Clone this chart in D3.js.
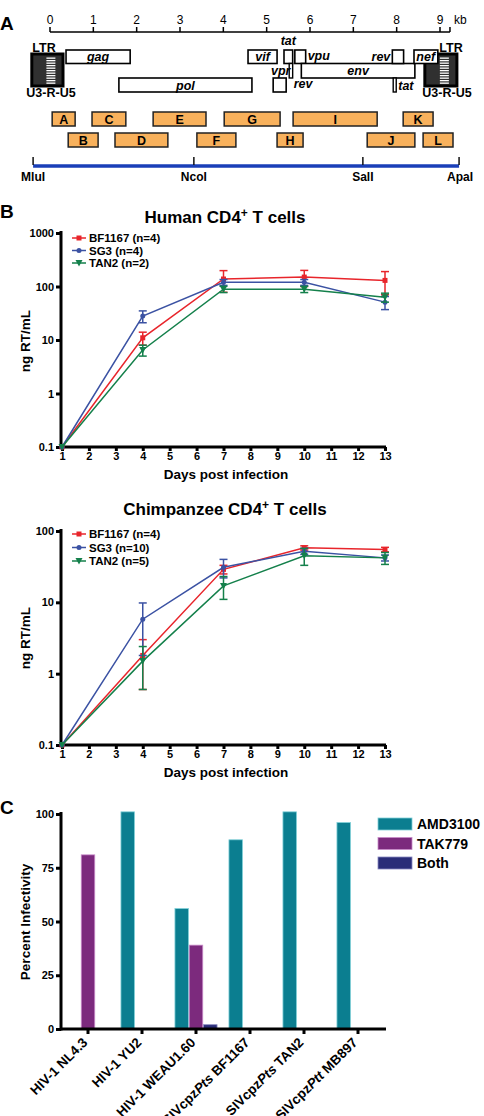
<!DOCTYPE html>
<html><head><meta charset="utf-8">
<script src="https://cdn.jsdelivr.net/npm/d3@7"></script>
<style>
html,body{margin:0;padding:0;background:#fff;}
svg text{font-family:"Liberation Sans",Arial,sans-serif;}
</style></head>
<body>
<svg id="c" width="484" height="1116"></svg>
<script>
// ---------- Panel A data (kb) ----------
const kbTicks = [0,1,2,3,4,5,6,7,8,9];
const genes = [
  {name:"gag", s:0.37, e:1.85, row:0},
  {name:"pol", s:1.59, e:4.66, row:2},
  {name:"vif", s:4.57, e:5.24, row:0},
  {name:"vpr", s:5.15, e:5.45, row:2},
  {name:"tat", s:5.40, e:5.60, row:0},
  {name:"vpu", s:5.65, e:5.90, row:0},
  {name:"env", s:5.80, e:8.42, row:1},
  {name:"rev", s:7.90, e:8.16, row:0},
  {name:"nef", s:8.40, e:8.95, row:0}
];
const thinExons = [
  {name:"rev", s:5.52, e:5.60, row:1},
  {name:"tat", s:7.92, e:7.99, row:2}
];
const ltrs = [{s:-0.42, e:0.30}, {s:8.65, e:9.39}];
const fragNames = ["A","B","C","D","E","F","G","H","I","J","K","L"];
const fragStart = [0.05,0.42,0.97,1.50,2.38,3.39,4.02,5.24,5.61,7.32,8.15,8.61];
const fragEnd   = [0.58,1.11,1.75,2.72,3.60,4.29,5.31,5.84,7.55,8.42,8.84,9.30];
const fragRow   = [0,1,0,1,0,1,0,1,0,1,0,1];
const sites = ["MluI","NcoI","SalI","ApaI"];
const sitePos = [-0.39,3.32,7.22,9.44];

// ---------- Panel B data ----------
const days = [1,4,7,10,13];
const seriesNames = ["BF1167","SG3","TAN2"];
const humanN = [4,4,2];
const humanBF1167 = [0.1,11,138,150,130];
const humanBF1167Err = [0,3,60,50,60];
const humanSG3 = [0.1,28,120,120,51];
const humanSG3Err = [0,7,15,15,14];
const humanTAN2 = [0.1,6.5,89,89,63];
const humanTAN2Err = [0,1.5,12,12,12];
const chimpN = [4,10,5];
const chimpBF1167 = [0.1,1.8,29,58,55];
const chimpBF1167Err = [0,1.2,4,4,4];
const chimpSG3 = [0.1,5.8,31,52,42];
const chimpSG3Err = [0,4,9,5,4];
const chimpTAN2 = [0.1,1.5,17,45,42];
const chimpTAN2Err = [0,0.9,6,12,8];
const humanTicks = [0.1,1,10,100,1000];
const chimpTicks = [0.1,1,10,100];

// ---------- Panel C data ----------
const virusNames = ["HIV-1 NL4.3","HIV-1 YU2","HIV-1 WEAU1.60","SIVcpzPts BF1167","SIVcpzPts TAN2","SIVcpzPtt MB897"];
const amd3100 = [0,101,56,88,101,96];
const tak779 = [81,0,39,0,0,0];
const both = [0,0,2,0,0,0];
const drugNames = ["AMD3100","TAK779","Both"];
const pctTicks = [0,25,50,75,100];

const svg = d3.select("#c");
const BOLD = 700;

// ================= Panel A =================
const kx = d3.scaleLinear().domain([0,9]).range([50,440]);
svg.append("text").attr("x",0).attr("y",30).attr("font-size",19).attr("font-weight",BOLD).text("A");
const scaleG = svg.append("g");
scaleG.append("line").attr("x1",kx(0)).attr("x2",kx(9.23)).attr("y1",32).attr("y2",32).attr("stroke","#000").attr("stroke-width",1.5);
scaleG.selectAll("line.t").data(kbTicks.concat([9.23])).join("line").attr("class","t")
  .attr("x1",d=>kx(d)).attr("x2",d=>kx(d)).attr("y1",27).attr("y2",32).attr("stroke","#000").attr("stroke-width",1.5);
scaleG.selectAll("text").data(kbTicks).join("text").attr("x",d=>kx(d)).attr("y",24)
  .attr("text-anchor","middle").attr("font-size",12).text(d=>d);
scaleG.append("text").attr("x",kx(9.23)+4).attr("y",24).attr("font-size",12).text("kb");

// LTRs (drawn first so gene boxes overlap them)
const ltrLabelX = [[44,51],[451,447]];
ltrs.forEach((l,i)=>{
  const x0=kx(l.s), x1=kx(l.e);
  svg.append("rect").attr("x",x0).attr("y",54).attr("width",x1-x0).attr("height",32)
    .attr("fill","#303030").attr("stroke","#000").attr("stroke-width",3);
  const sx = x0 + (x1-x0)*0.5 - 1;
  for(let k=0;k<11;k++){
    svg.append("rect").attr("x",sx).attr("y",57.5+k*2.5).attr("width",9).attr("height",1.3).attr("fill","#fff");
  }
  svg.append("text").attr("x",ltrLabelX[i][0]).attr("y",52).attr("text-anchor","middle").attr("font-size",12.5).attr("font-weight",BOLD).text("LTR");
  svg.append("text").attr("x",ltrLabelX[i][1]).attr("y",97).attr("text-anchor","middle").attr("font-size",12.5).attr("font-weight",BOLD).text("U3-R-U5");
});

const rowY = [50,63.5,78];
const rowH = [13.5,14.5,14];
const gG = svg.append("g");
gG.selectAll("rect").data(genes).join("rect")
  .attr("x",d=>kx(d.s)).attr("y",d=>rowY[d.row]).attr("width",d=>kx(d.e)-kx(d.s)).attr("height",d=>rowH[d.row])
  .attr("fill","#fff").attr("stroke","#000").attr("stroke-width",1.6);
gG.selectAll("rect.thin").data(thinExons).join("rect").attr("class","thin")
  .attr("x",d=>kx(d.s)).attr("y",d=>rowY[d.row]).attr("width",d=>kx(d.e)-kx(d.s)).attr("height",d=>rowH[d.row])
  .attr("fill","#fff").attr("stroke","#000").attr("stroke-width",1.4);

// gene labels
const gl = (t,x,y,anchor)=>svg.append("text").attr("x",x).attr("y",y).attr("text-anchor",anchor||"middle")
  .attr("font-size",12.5).attr("font-weight",BOLD).attr("font-style","italic").text(t);
const gc = n=>genes.find(g=>g.name===n);
gl("gag",(kx(gc("gag").s)+kx(gc("gag").e))/2,61);
gl("pol",(kx(gc("pol").s)+kx(gc("pol").e))/2,89.5);
gl("vif",(kx(gc("vif").s)+kx(gc("vif").e))/2,61);
gl("tat",kx(5.50),45);
gl("vpu",kx(5.90)+2,60,"start");
gl("vpr",kx(5.30)+1,75);
gl("rev",kx(5.60)+1,88,"start");
gl("env",(kx(gc("env").s)+kx(gc("env").e))/2,74.5);
gl("rev",kx(7.90)-2,61,"end");
gl("tat",kx(7.99)+2,89.5,"start");
gl("nef",kx(8.67),61);

// fragments
const fragY=[112,133];
const frags = fragNames.map((n,i)=>({n,s:fragStart[i],e:fragEnd[i],r:fragRow[i]}));
const fG = svg.append("g");
fG.selectAll("rect").data(frags).join("rect")
  .attr("x",d=>kx(d.s)).attr("y",d=>fragY[d.r]).attr("width",d=>kx(d.e)-kx(d.s)).attr("height",14)
  .attr("fill","#f8b15c").attr("stroke","#222").attr("stroke-width",1.5);
fG.selectAll("text").data(frags).join("text")
  .attr("x",d=>(kx(d.s)+kx(d.e))/2).attr("y",d=>fragY[d.r]+11.5).attr("text-anchor","middle")
  .attr("font-size",12.5).attr("font-weight",BOLD).text(d=>d.n);

// restriction line
svg.append("line").attr("x1",kx(sitePos[0])).attr("x2",kx(sitePos[3])).attr("y1",166).attr("y2",166)
  .attr("stroke","#1a3fb8").attr("stroke-width",3.5);
svg.selectAll("line.site").data(sitePos).join("line").attr("class","site")
  .attr("x1",d=>kx(d)).attr("x2",d=>kx(d)).attr("y1",157).attr("y2",165).attr("stroke","#111").attr("stroke-width",1.5);
svg.selectAll("text.site").data(sites).join("text").attr("class","site")
  .attr("x",(d,i)=>kx(sitePos[i])+(i===3?1:0)).attr("y",181).attr("text-anchor","middle")
  .attr("font-size",12).attr("font-weight",BOLD).text(d=>d);

// ================= Panel B =================
svg.append("text").attr("x",0).attr("y",218).attr("font-size",19).attr("font-weight",BOLD).text("B");
const colors = ["#e8252b","#3b52a3","#14804b"];

function lineChart(cfg){
  const g = svg.append("g");
  const x = d3.scaleLinear().domain([1,13]).range([62,385]);
  const y = d3.scaleLog().domain([0.1,cfg.top]).range([cfg.bottom,cfg.ytop]);
  const t = g.append("text").attr("x",225).attr("y",cfg.titleY).attr("text-anchor","middle")
    .attr("font-size",17).attr("font-weight",BOLD);
  t.append("tspan").text(cfg.title);
  t.append("tspan").attr("dy",-6).attr("font-size",12).text("+");
  t.append("tspan").attr("dy",6).text(" T cells");
  const yAx = d3.axisLeft(y).tickValues(cfg.ticks).tickFormat(d=>d).tickSize(5).tickPadding(2);
  const ya = g.append("g").attr("transform","translate(61,0)").call(yAx);
  ya.select(".domain").attr("stroke","#000").attr("stroke-width",3).attr("d",`M0,${cfg.bottom+1.5}V${cfg.ytop-2}`);
  ya.selectAll(".tick line").attr("stroke","#000").attr("stroke-width",3);
  ya.selectAll(".tick text").attr("font-size",11).attr("font-weight",BOLD).attr("fill","#000").attr("font-family","Liberation Sans, Arial");
  const xAx = d3.axisBottom(x).tickValues(d3.range(1,14)).tickSize(4).tickPadding(1);
  const xa = g.append("g").attr("transform",`translate(0,${cfg.bottom})`).call(xAx);
  xa.select(".domain").attr("stroke","#000").attr("stroke-width",3).attr("d","M60,0H386");
  xa.selectAll(".tick line").attr("stroke","#000").attr("stroke-width",3);
  xa.selectAll(".tick text").attr("font-size",11).attr("font-weight",BOLD).attr("fill","#000").attr("font-family","Liberation Sans, Arial");
  g.append("text").attr("x",226).attr("y",cfg.bottom+32).attr("text-anchor","middle").attr("font-size",13.5).attr("font-weight",BOLD).text("Days post infection");
  g.append("text").attr("transform",`translate(30,${cfg.ylabY}) rotate(-90)`).attr("text-anchor","middle")
    .attr("font-size",13.5).attr("font-weight",BOLD).text("ng RT/mL");
  const line = d3.line().x((d,i)=>x(days[i])).y(d=>y(d));
  cfg.series.forEach((s,k)=>{
    const c = colors[k];
    const eg = g.append("g");
    s.vals.forEach((v,i)=>{
      const e = s.err[i]; if(!e) return;
      const lo = Math.max(v-e,0.11), hi = v+e, xx = x(days[i]);
      eg.append("line").attr("x1",xx).attr("x2",xx).attr("y1",y(lo)).attr("y2",y(hi)).attr("stroke",c).attr("stroke-width",1.5);
      [lo,hi].forEach(b=>eg.append("line").attr("x1",xx-4).attr("x2",xx+4).attr("y1",y(b)).attr("y2",y(b)).attr("stroke",c).attr("stroke-width",1.5));
    });
    g.append("path").attr("d",line(s.vals)).attr("fill","none").attr("stroke",c).attr("stroke-width",1.5);
    s.vals.forEach((v,i)=>marker(g,k,x(days[i]),y(v)));
  });
  cfg.series.forEach((s,k)=>{
    const ly = cfg.legY + k*cfg.legStep;
    g.append("line").attr("x1",72).attr("x2",86).attr("y1",ly).attr("y2",ly).attr("stroke",colors[k]).attr("stroke-width",1.5);
    marker(g,k,79,ly);
    g.append("text").attr("x",89).attr("y",ly+4).attr("font-size",11.5).attr("font-weight",BOLD).text(`${seriesNames[k]} (n=${cfg.n[k]})`);
  });
}
function marker(g,k,x,y){
  const c = colors[k];
  if(k===0) g.append("rect").attr("x",x-2.5).attr("y",y-2.5).attr("width",5).attr("height",5).attr("fill",c);
  else if(k===1) g.append("circle").attr("cx",x).attr("cy",y).attr("r",2.5).attr("fill",c);
  else g.append("path").attr("d",`M${x-3.5},${y-3}L${x+3.5},${y-3}L${x},${y+3.5}Z`).attr("fill",c);
}

lineChart({title:"Human CD4", titleY:223, top:1000, ytop:233, bottom:447, ticks:humanTicks, ylabY:341,
  legY:238, legStep:12.5, n:humanN,
  series:[{vals:humanBF1167,err:humanBF1167Err},{vals:humanSG3,err:humanSG3Err},{vals:humanTAN2,err:humanTAN2Err}]});
lineChart({title:"Chimpanzee CD4", titleY:515, top:100, ytop:531, bottom:745, ticks:chimpTicks, ylabY:638,
  legY:534, legStep:13.5, n:chimpN,
  series:[{vals:chimpBF1167,err:chimpBF1167Err},{vals:chimpSG3,err:chimpSG3Err},{vals:chimpTAN2,err:chimpTAN2Err}]});

// ================= Panel C =================
svg.append("text").attr("x",0).attr("y",814).attr("font-size",19).attr("font-weight",BOLD).text("C");
const cx = d3.scaleBand().domain(virusNames).range([61,385]);
const cy = d3.scaleLinear().domain([0,100]).range([1029,814]);
const drugColors = ["#0b7e90","#7c2a7d","#2a2d78"];
const drugStroke = ["#7fcfd8","#c98bc9","#8888c0"];
const cg = svg.append("g");
const groups = [amd3100,tak779,both];
const bw = 13.5, off = [-14.3,0,14.3];
groups.forEach((arr,k)=>{
  cg.selectAll(null).data(arr.map((v,i)=>({v,i}))).join("rect").filter(d=>d.v>0)
    .attr("x",d=>cx(virusNames[d.i])+cx.bandwidth()/2+off[k]-bw/2)
    .attr("y",d=>cy(d.v)).attr("width",bw).attr("height",d=>cy(0)-cy(d.v))
    .attr("fill",drugColors[k]).attr("stroke",drugStroke[k]).attr("stroke-width",0.8);
});
const cyAx = d3.axisLeft(cy).tickValues(pctTicks).tickSize(5).tickPadding(2);
const cya = cg.append("g").attr("transform","translate(61,0)").call(cyAx);
cya.select(".domain").attr("stroke","#000").attr("stroke-width",3).attr("d","M0,1030.5V812");
cya.selectAll(".tick line").attr("stroke","#000").attr("stroke-width",3);
cya.selectAll(".tick text").attr("font-size",11).attr("font-weight",BOLD).attr("fill","#000").attr("font-family","Liberation Sans, Arial");
const cxAx = d3.axisBottom(cx).tickSize(5).tickFormat("");
const cxa = cg.append("g").attr("transform","translate(0,1029)").call(cxAx);
cxa.select(".domain").attr("stroke","#000").attr("stroke-width",3).attr("d","M60,0H386");
cxa.selectAll(".tick line").attr("stroke","#000").attr("stroke-width",3);
virusNames.forEach(n=>{
  const tx = cx(n)+cx.bandwidth()/2 - 3, ty = 1040;
  const t = cg.append("text").attr("transform",`translate(${tx},${ty}) rotate(-45)`).attr("text-anchor","end")
    .attr("dy","0.35em").attr("font-size",13.5).attr("font-weight",BOLD);
  const m = n.match(/^SIVcpz(Pts|Ptt)( .*)$/);
  if(m){ t.append("tspan").text("SIVcpz"); t.append("tspan").attr("font-style","italic").text(m[1]); t.append("tspan").text(m[2]); }
  else t.text(n);
});
cg.append("text").attr("transform","translate(30,922) rotate(-90)").attr("text-anchor","middle")
  .attr("font-size",13.5).attr("font-weight",BOLD).text("Percent Infectivity");
drugNames.forEach((d,k)=>{
  const ly = 818 + k*19.5;
  cg.append("rect").attr("x",378).attr("y",ly).attr("width",34).attr("height",12).attr("fill",drugColors[k]).attr("stroke",drugStroke[k]).attr("stroke-width",0.8);
  cg.append("text").attr("x",417).attr("y",ly+11).attr("font-size",14).attr("font-weight",BOLD).text(d);
});
</script>
</body></html>
